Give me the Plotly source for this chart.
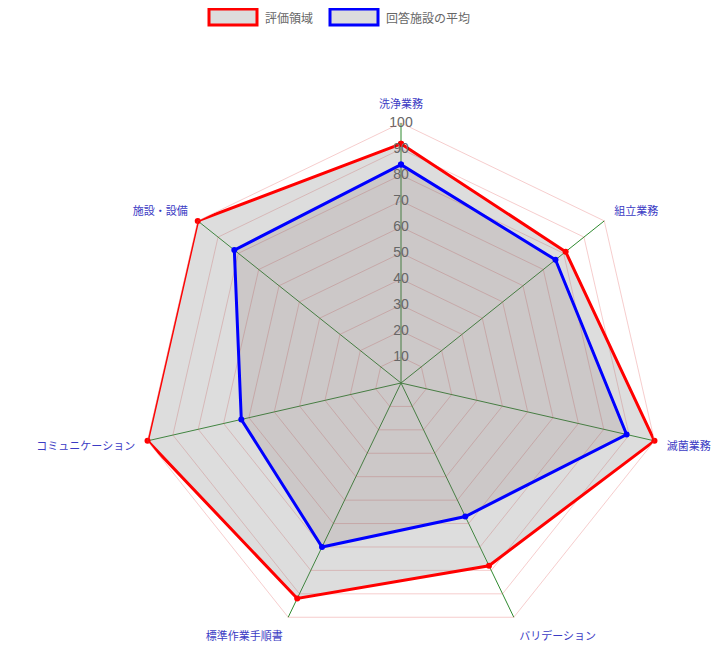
import plotly.graph_objects as go

categories = ["洗浄業務", "組立業務", "滅菌業務", "バリデーション", "標準作業手順書", "コミュニケーション", "施設・設備"]
evaluation = [92, 81, 100, 78, 92, 100, 100]
facility_avg = [84, 76, 89, 57, 70, 63, 82]
series_names = ["評価領域", "回答施設の平均"]
radial_ticks = [10, 20, 30, 40, 50, 60, 70, 80, 90, 100]

def closed(v):
    return list(v) + [v[0]]

fig = go.Figure()
fig.add_trace(go.Scatterpolar(
    r=closed(evaluation), theta=closed(categories), name=series_names[0],
    mode="lines+markers", fill="toself", fillcolor="rgba(120,120,120,0.25)",
    line=dict(color="#ff0000", width=3), marker=dict(color="#ff0000", size=6),
))
fig.add_trace(go.Scatterpolar(
    r=closed(facility_avg), theta=closed(categories), name=series_names[1],
    mode="lines+markers", fill="toself", fillcolor="rgba(110,80,80,0.15)",
    line=dict(color="#0000ff", width=3), marker=dict(color="#0000ff", size=6),
))
fig.add_trace(go.Scatterpolar(
    r=radial_ticks, theta=[categories[0]] * len(radial_ticks), mode="text",
    text=[str(t) for t in radial_ticks], textfont=dict(size=14, color="#666666", family="Liberation Sans, Arial"),
    showlegend=False, hoverinfo="skip",
))

# page body has an 8px margin, so the figure is sized/offset to compensate
OFF = 8
W, H = 721 - OFF, 646 - OFF
cx, cy, R = 401 - OFF, 383 - OFF, 260
fig.update_layout(
    width=W, height=H, margin=dict(l=0, r=0, t=0, b=0),
    paper_bgcolor="white", showlegend=False,
    font=dict(family="Noto Sans CJK JP, sans-serif"),
    polar=dict(
        bgcolor="rgba(0,0,0,0)", gridshape="linear",
        domain=dict(x=[(cx - R) / W, (cx + R) / W], y=[(H - cy - R) / H, (H - cy + R) / H]),
        radialaxis=dict(range=[0, 100], dtick=10, showticklabels=False, ticks="",
                        showline=False, gridcolor="rgba(225,90,90,0.3)", gridwidth=1),
        angularaxis=dict(rotation=90, direction="clockwise", type="category",
                         categoryarray=categories,
                         gridcolor="#2f8a2f", gridwidth=1,
                         linecolor="rgba(225,90,90,0.3)", linewidth=1,
                         ticks="outside", ticklen=10, tickcolor="rgba(0,0,0,0)",
                         tickfont=dict(size=11, color="#3b3bc4")),
    ),
)

# legend drawn as decoration
legend = [(209, 257, "#ff0000", series_names[0]), (330, 378, "#0000ff", series_names[1])]
for x0, x1, col, name in legend:
    fig.add_shape(type="rect", xref="paper", yref="paper",
                  x0=(x0 - OFF) / W, x1=(x1 - OFF) / W, y0=1 - (25 - OFF) / H, y1=1 - (9 - OFF) / H,
                  line=dict(color=col, width=3), fillcolor="rgba(120,120,120,0.25)")
    fig.add_annotation(xref="paper", yref="paper", x=(x1 + 6 - OFF) / W, y=1 - (17 - OFF) / H,
                       xanchor="left", yanchor="middle", showarrow=False,
                       text=name, font=dict(size=12, color="#666666"))

fig.write_html("out.html")
